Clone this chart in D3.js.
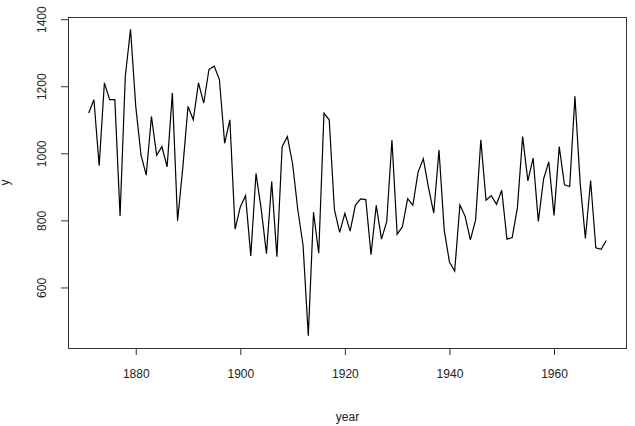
<!DOCTYPE html>
<html>
<head>
<meta charset="utf-8">
<script src="https://cdn.jsdelivr.net/npm/d3@7"></script>
<style>
  body { margin: 0; background: #fff; }
  text { font-family: "Liberation Sans", Arial, sans-serif; font-size: 12px; fill: #222; }
</style>
</head>
<body>
<svg id="chart" width="635" height="426"></svg>
<script>
// Nile annual flow, 1871-1970
const startYear = 1871;
const flow = [1120, 1160, 963, 1210, 1160, 1160, 813, 1230, 1370, 1140,
  995, 935, 1110, 994, 1020, 960, 1180, 799, 958, 1140,
  1100, 1210, 1150, 1250, 1260, 1220, 1030, 1100, 774, 840,
  874, 694, 940, 833, 701, 916, 692, 1020, 1050, 969,
  831, 726, 456, 824, 702, 1120, 1100, 832, 764, 821,
  768, 845, 864, 862, 698, 845, 744, 796, 1040, 759,
  781, 865, 845, 944, 984, 897, 822, 1010, 771, 676,
  649, 846, 812, 742, 801, 1040, 860, 874, 848, 890,
  744, 749, 838, 1050, 918, 986, 797, 923, 975, 815,
  1020, 906, 901, 1170, 912, 746, 919, 718, 714, 740];
const xTicks = [1880, 1900, 1920, 1940, 1960];
const yTicks = [600, 800, 1000, 1200, 1400];

const data = flow.map((v, i) => ({ year: startYear + i, value: v }));

const margin = { left: 68, right: 8, top: 17, bottom: 78 };
const W = 635, H = 426;
const svg = d3.select("#chart");

// R-style 4% padding on data range
const pad = (ext) => {
  const d = (ext[1] - ext[0]) * 0.04;
  return [ext[0] - d, ext[1] + d];
};

const x = d3.scaleLinear()
  .domain(pad(d3.extent(data, (d) => d.year)))
  .range([margin.left, W - margin.right]);
const y = d3.scaleLinear()
  .domain(pad(d3.extent(data, (d) => d.value)))
  .range([H - margin.bottom, margin.top]);

const line = d3.line().x((d) => x(d.year)).y((d) => y(d.value));

svg.append("path")
  .datum(data)
  .attr("d", line)
  .attr("fill", "none")
  .attr("stroke", "#000")
  .attr("stroke-width", 1.2);

// box
svg.append("rect")
  .attr("x", margin.left + 0.5)
  .attr("y", margin.top + 0.5)
  .attr("width", W - margin.left - margin.right - 1)
  .attr("height", H - margin.top - margin.bottom)
  .attr("fill", "none")
  .attr("stroke", "#333")
  .attr("stroke-width", 1);

const xAxis = svg.append("g")
  .attr("transform", `translate(0,${H - margin.bottom})`)
  .call(d3.axisBottom(x).tickValues(xTicks).tickFormat(d3.format("d")).tickSize(7).tickPadding(14));
xAxis.select(".domain").remove();
xAxis.selectAll("line").attr("stroke", "#333");
xAxis.selectAll("text").style("font-size", "12px").attr("fill", "#222");

const yAxis = svg.append("g")
  .attr("transform", `translate(${margin.left},0)`)
  .call(d3.axisLeft(y).tickValues(yTicks).tickSize(7).tickFormat(d3.format("d")));
yAxis.select(".domain").remove();
yAxis.selectAll("line").attr("stroke", "#333");
yAxis.selectAll("text")
  .style("font-size", "12px")
  .attr("fill", "#222")
  .attr("x", null).attr("dy", null)
  .attr("text-anchor", "middle")
  .attr("transform", "translate(-26,0) rotate(-90)")
  .attr("dy", "0.35em");

svg.append("text")
  .attr("x", (margin.left + W - margin.right) / 2)
  .attr("y", 421)
  .attr("text-anchor", "middle")
  .text("year");

svg.append("text")
  .attr("transform", `translate(9,${(margin.top + H - margin.bottom) / 2}) rotate(-90)`)
  .attr("text-anchor", "middle")
  .text("y");
</script>
</body>
</html>
